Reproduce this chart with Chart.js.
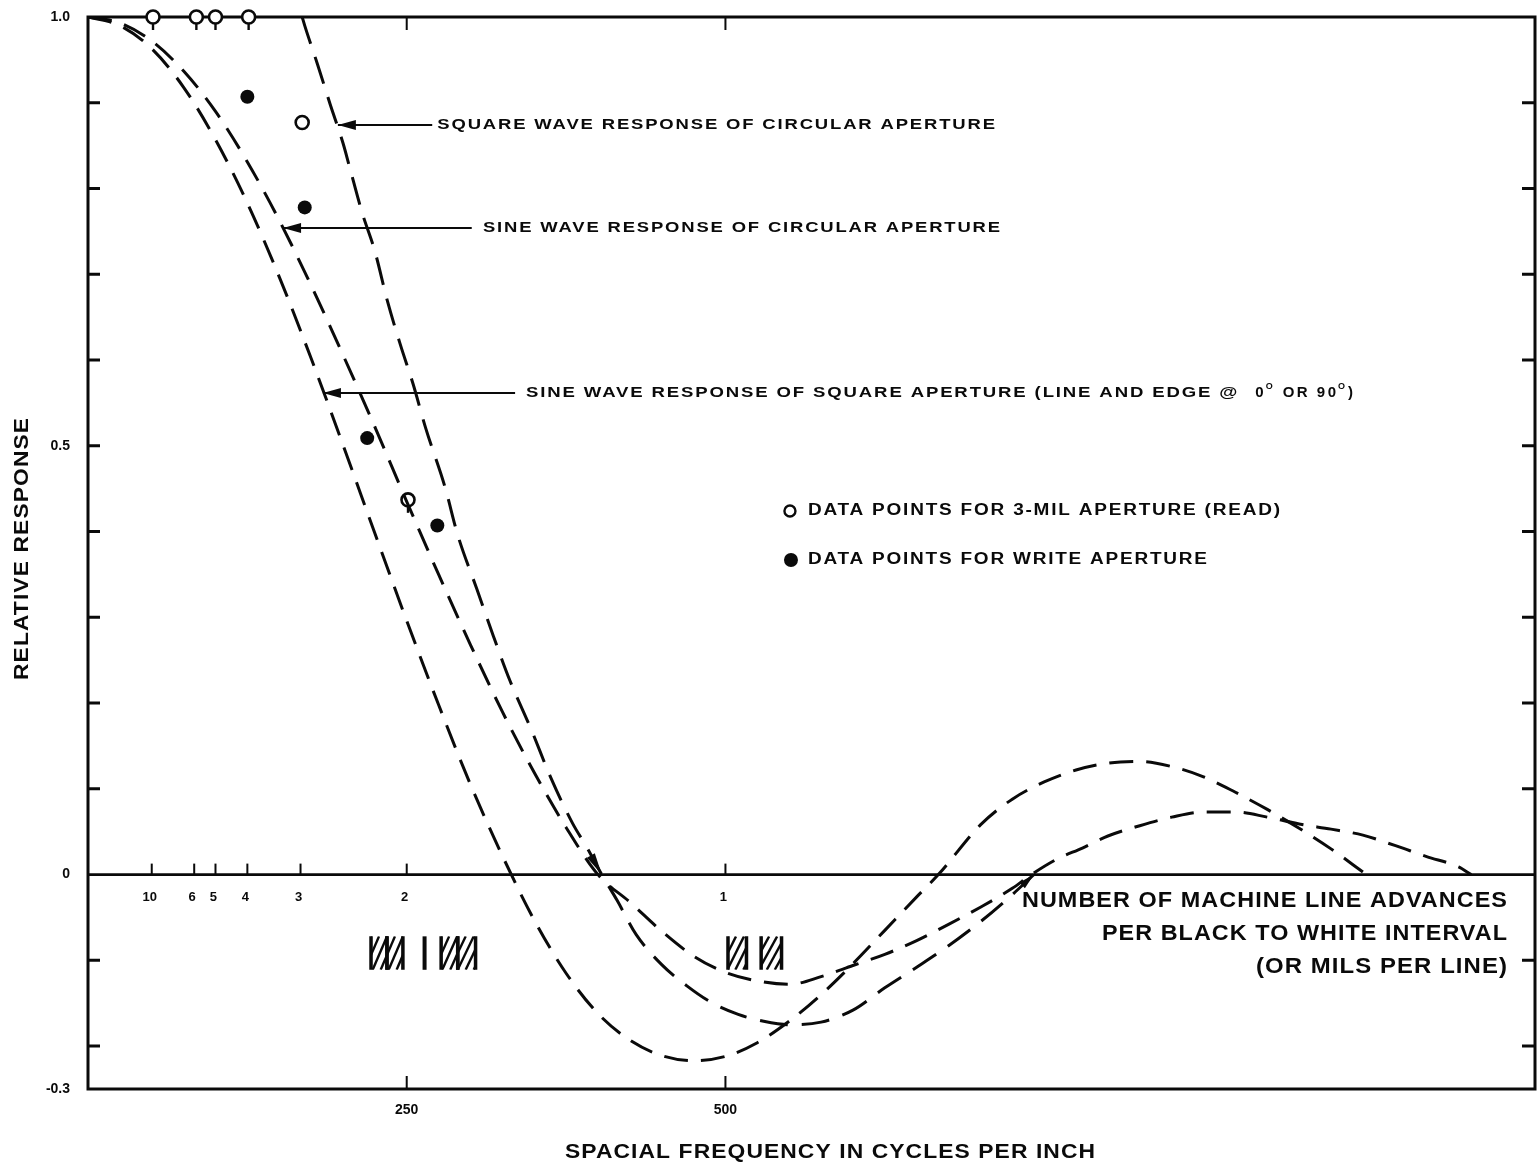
<!DOCTYPE html>
<html>
<head>
<meta charset="utf-8">
<script src="https://cdn.jsdelivr.net/npm/chart.js@4/dist/chart.umd.min.js"></script>
<style>
  html, body { margin: 0; padding: 0; background: #fff; overflow: hidden; }
  #wrap { width: 1537px; height: 1168px; }
  canvas { display: block; }
</style>
</head>
<body>
<div id="wrap"><canvas id="c" width="1537" height="1168"></canvas></div>
<script>
// ---- Response curves (spatial frequency in cycles per inch -> relative response) ----
const squareApertureFreq = [0,25,50,75,100,125,150,175,200,225,250,275,300,325,350,375,400,425,450,475,500,525,550,575,600,625,650,667,700,725,750,775,800,825,850,875,900,925,950,975,1000];
const squareApertureResp = [1.0,0.99,0.963,0.918,0.857,0.783,0.697,0.602,0.501,0.398,0.296,0.198,0.105,0.022,-0.053,-0.115,-0.162,-0.193,-0.211,-0.217,-0.212,-0.196,-0.171,-0.140,-0.104,-0.065,-0.026,0.0,0.058,0.088,0.108,0.122,0.130,0.132,0.126,0.114,0.096,0.076,0.054,0.030,0.003];

const circularSineFreq = [0,25,50,75,100,125,150,175,200,225,250,275,300,325,350,375,400,425,450,475,500,525,550,575,600,625,650,675,700,725,740,760,780,800,825,850,875,900,925,950,975,1000,1025,1050,1075,1085];
const circularSineResp = [1.0,0.993,0.972,0.937,0.890,0.831,0.763,0.687,0.606,0.522,0.435,0.350,0.268,0.190,0.119,0.055,0.0,-0.032,-0.066,-0.095,-0.114,-0.124,-0.128,-0.119,-0.106,-0.093,-0.077,-0.058,-0.038,-0.016,0.0,0.018,0.031,0.045,0.057,0.067,0.073,0.073,0.067,0.059,0.053,0.046,0.034,0.021,0.009,0.0];

const circularSquareFreq = [168,170,180,190,200,205,215,225,235,245,255,265,280,290,305,318,331,348,363,380,392,403,415,430,450,470,490,510,530,550,575,600,625,650,675,700,720,742];
const circularSquareResp = [1.0,0.99,0.945,0.898,0.853,0.826,0.772,0.727,0.668,0.618,0.572,0.52,0.452,0.396,0.333,0.278,0.226,0.168,0.113,0.06,0.03,0.0,-0.03,-0.07,-0.105,-0.13,-0.15,-0.163,-0.171,-0.175,-0.172,-0.158,-0.132,-0.108,-0.083,-0.055,-0.03,0.0];

// ---- Measured points ----
const readFreq  = [51, 85, 100, 126, 168, 251];
const readResp  = [1.0, 1.0, 1.0, 1.0, 0.877, 0.437];
const writeFreq = [125, 170, 219, 274];
const writeResp = [0.907, 0.778, 0.509, 0.407];

// ---- Axis ticks ----
const xTickValues = [250, 500];
const xTickLabels = ['250', '500'];
const yTickValues = [-0.25, 0, 0.5, 1.0];
const yTickLabels = ['-0.3', '0', '0.5', '1.0'];
const yMinorTicks = [-0.2, -0.1, 0.1, 0.2, 0.3, 0.4, 0.5, 0.6, 0.7, 0.8, 0.9];

// Machine line advances per black-to-white interval and their frequencies
const lineAdvanceLabels = ['10', '6', '5', '4', '3', '2', '1'];
const lineAdvanceFreq   = [50, 83.3, 100, 125, 166.7, 250, 500];

const FONT = '"Liberation Sans", Arial, Helvetica, sans-serif';
const INK = '#0a0a0a';

const toXY = (xs, ys) => xs.map((x, i) => ({ x, y: ys[i] }));

// Draw text with a light letter spacing, optionally scaled horizontally to span a width.
// Returns the x position just after the drawn text.
function fitText(ctx, str, x, y, size, width, spacing) {
  ctx.font = `bold ${size}px ${FONT}`;
  const ls = spacing === undefined ? 1.5 : spacing;
  ctx.letterSpacing = ls + 'px';
  ctx.textAlign = 'left';
  ctx.textBaseline = 'middle';
  const w0 = ctx.measureText(str).width - ls;
  const w = width || w0;
  ctx.save();
  ctx.translate(x, y);
  ctx.scale(w / w0, 1);
  ctx.fillText(str, 0, 0);
  ctx.restore();
  ctx.letterSpacing = '0px';
  return x + w;
}

function arrowLeft(ctx, xTail, xTip, y) {
  ctx.lineWidth = 2;
  ctx.beginPath();
  ctx.moveTo(xTail, y);
  ctx.lineTo(xTip, y);
  ctx.stroke();
  ctx.beginPath();
  ctx.moveTo(xTip, y);
  ctx.lineTo(xTip + 18, y - 5);
  ctx.lineTo(xTip + 18, y + 5);
  ctx.closePath();
  ctx.fill();
}

// Small solid wedge pointing from (xa, ya) towards (xb, yb), tip at (xb, yb)
function wedge(ctx, xa, ya, xb, yb, len, half) {
  const dx = xb - xa, dy = yb - ya, d = Math.hypot(dx, dy) || 1;
  const ux = dx / d, uy = dy / d;
  const bx = xb - ux * len, by = yb - uy * len;
  ctx.beginPath();
  ctx.moveTo(xb, yb);
  ctx.lineTo(bx - uy * half, by + ux * half);
  ctx.lineTo(bx + uy * half, by - ux * half);
  ctx.closePath();
  ctx.fill();
}

// One hatched cell: two vertical edges with rising diagonal strokes between them
function hatchCell(ctx, x0, x1, yBottom, yTop) {
  ctx.save();
  ctx.beginPath();
  ctx.rect(x0, yTop, x1 - x0, yBottom - yTop);
  ctx.clip();
  ctx.lineWidth = 2.4;
  const run = (x1 - x0) * 0.9;
  for (let x = x0 - run; x < x1 + 2; x += 8) {
    ctx.beginPath();
    ctx.moveTo(x, yBottom);
    ctx.lineTo(x + run, yTop);
    ctx.stroke();
  }
  ctx.restore();
  ctx.lineWidth = 3.5;
  ctx.beginPath();
  ctx.moveTo(x0, yBottom); ctx.lineTo(x0, yTop);
  ctx.moveTo(x1, yBottom); ctx.lineTo(x1, yTop);
  ctx.stroke();
}

const overlay = {
  id: 'overlay',
  beforeDatasetsDraw(chart) {
    const { ctx, chartArea: a, scales: { x: xs, y: ys } } = chart;
    ctx.save();
    ctx.strokeStyle = INK;
    ctx.fillStyle = INK;
    ctx.lineCap = 'butt';

    // plot frame
    ctx.lineWidth = 3;
    ctx.strokeRect(a.left, a.top, a.right - a.left, a.bottom - a.top);

    // inward tick marks on both vertical edges
    ctx.lineWidth = 3;
    yMinorTicks.forEach(v => {
      const y = ys.getPixelForValue(v);
      ctx.beginPath();
      ctx.moveTo(a.left, y); ctx.lineTo(a.left + 12, y);
      ctx.moveTo(a.right, y); ctx.lineTo(a.right - 13, y);
      ctx.stroke();
    });
    // inward tick marks on top and bottom edges
    ctx.lineWidth = 2;
    xTickValues.forEach(v => {
      const x = xs.getPixelForValue(v);
      ctx.beginPath();
      ctx.moveTo(x, a.top); ctx.lineTo(x, a.top + 13);
      ctx.moveTo(x, a.bottom); ctx.lineTo(x, a.bottom - 13);
      ctx.stroke();
    });

    // zero response line with line-advance ticks
    const y0 = ys.getPixelForValue(0);
    ctx.lineWidth = 2.6;
    ctx.beginPath();
    ctx.moveTo(a.left, y0); ctx.lineTo(a.right, y0);
    ctx.stroke();
    ctx.lineWidth = 2;
    lineAdvanceFreq.forEach(f => {
      const x = xs.getPixelForValue(f);
      ctx.beginPath();
      ctx.moveTo(x, y0); ctx.lineTo(x, y0 - 11);
      ctx.stroke();
    });
    ctx.font = `bold 13px ${FONT}`;
    ctx.textAlign = 'center';
    ctx.textBaseline = 'middle';
    lineAdvanceLabels.forEach((t, i) => {
      ctx.fillText(t, xs.getPixelForValue(lineAdvanceFreq[i]) - 2, ys.getPixelForValue(-0.027));
    });

    // bar-pattern glyphs below the zero line
    const gyB = ys.getPixelForValue(-0.111), gyT = ys.getPixelForValue(-0.072);
    [[222, 234.5], [234.5, 247], [277, 290], [290, 304], [502, 516.5], [528, 544]].forEach(([f0, f1]) => {
      hatchCell(ctx, xs.getPixelForValue(f0), xs.getPixelForValue(f1), gyB, gyT);
    });
    ctx.lineWidth = 4;
    ctx.beginPath();
    const bx = xs.getPixelForValue(264);
    ctx.moveTo(bx, gyB); ctx.lineTo(bx, gyT);
    ctx.stroke();
    ctx.restore();
  },
  afterDatasetsDraw(chart) {
    const { ctx, scales: { x: xs, y: ys } } = chart;
    const X = v => xs.getPixelForValue(v), Y = v => ys.getPixelForValue(v);
    ctx.save();
    ctx.strokeStyle = INK;
    ctx.fillStyle = INK;

    // stems below the read-aperture points
    ctx.lineWidth = 2.4;
    [0, 1, 2, 3, 5].forEach(i => {
      const x = X(readFreq[i]), y = Y(readResp[i]);
      ctx.beginPath();
      ctx.moveTo(x, y + 6); ctx.lineTo(x, y + 13);
      ctx.stroke();
    });

    // direction wedges where the square-wave curve meets the zero line
    const qi = circularSquareResp.indexOf(0.0);
    wedge(ctx, X(circularSquareFreq[qi - 2]), Y(circularSquareResp[qi - 2]), X(circularSquareFreq[qi]), Y(circularSquareResp[qi]), 22, 4.5);
    const qn = circularSquareFreq.length - 1;
    wedge(ctx, X(circularSquareFreq[qn - 1]), Y(circularSquareResp[qn - 1]), X(circularSquareFreq[qn]), Y(circularSquareResp[qn]), 16, 4);

    // curve call-outs
    arrowLeft(ctx, X(270), X(196), Y(0.8741));
    fitText(ctx, 'SQUARE WAVE RESPONSE OF CIRCULAR APERTURE', X(274), Y(0.8741), 15, X(711.4) - X(274));
    arrowLeft(ctx, X(301), X(153), Y(0.754));
    fitText(ctx, 'SINE WAVE RESPONSE OF CIRCULAR APERTURE', X(309.8), Y(0.754), 15, X(715.4) - X(309.8));
    arrowLeft(ctx, X(335), X(184.3), Y(0.5616));
    const y3 = Y(0.5616);
    let cx = fitText(ctx, 'SINE WAVE RESPONSE OF SQUARE APERTURE (LINE AND EDGE @', X(343.6), y3, 15, X(901.5) - X(343.6));
    cx = fitText(ctx, '0', cx + 18, y3, 15, 0, 0);
    cx = fitText(ctx, 'O', cx + 2, y3 - 6, 9, 0, 0);
    cx = fitText(ctx, 'OR 90', cx + 10, y3, 15, 0, 2.5);
    cx = fitText(ctx, 'O', cx + 2, y3 - 6, 9, 0, 0);
    fitText(ctx, ')', cx + 3, y3, 15, 0, 0);

    // point key
    ctx.lineWidth = 2.4;
    ctx.beginPath();
    ctx.arc(X(550.6), Y(0.424), 5.5, 0, Math.PI * 2);
    ctx.stroke();
    fitText(ctx, 'DATA POINTS FOR 3-MIL APERTURE (READ)', X(564.7), Y(0.424), 16, X(935) - X(564.7));
    ctx.beginPath();
    ctx.arc(X(551.4), Y(0.3668), 7, 0, Math.PI * 2);
    ctx.fill();
    fitText(ctx, 'DATA POINTS FOR WRITE APERTURE', X(564.7), Y(0.3668), 16, X(877.7) - X(564.7));

    // line-advance caption, right aligned
    const rx = X(1113);
    [['NUMBER OF MACHINE LINE ADVANCES', -0.0308, 485],
     ['PER BLACK TO WHITE INTERVAL', -0.0693, 405],
     ['(OR MILS PER LINE)', -0.1077, 251]].forEach(([t, r, w]) => {
      fitText(ctx, t, rx - w, Y(r), 22, w, 1);
    });

    // axis titles
    fitText(ctx, 'SPACIAL FREQUENCY IN CYCLES PER INCH', 565, 1152, 21, 530, 1);
    ctx.save();
    ctx.translate(22, 680);
    ctx.rotate(-Math.PI / 2);
    fitText(ctx, 'RELATIVE RESPONSE', 0, 0, 20, 262, 1);
    ctx.restore();

    ctx.restore();
  }
};

const curveStyle = {
  showLine: true,
  pointRadius: 0,
  borderColor: INK,
  borderWidth: 3,
  borderDash: [24, 13],
  cubicInterpolationMode: 'monotone',
  fill: false
};

new Chart(document.getElementById('c'), {
  type: 'scatter',
  data: {
    datasets: [
      Object.assign({ label: 'Sine wave response of square aperture', data: toXY(squareApertureFreq, squareApertureResp) }, curveStyle),
      Object.assign({ label: 'Sine wave response of circular aperture', data: toXY(circularSineFreq, circularSineResp) }, curveStyle),
      Object.assign({ label: 'Square wave response of circular aperture', data: toXY(circularSquareFreq, circularSquareResp), clip: false }, curveStyle, { borderDash: [28, 14] }),
      { label: 'Data points for 3-mil aperture (read)', data: toXY(readFreq, readResp), pointRadius: 6.5, pointBorderWidth: 2.6,
        pointBackgroundColor: '#fff', pointBorderColor: INK, showLine: false, clip: false },
      { label: 'Data points for write aperture', data: toXY(writeFreq, writeResp), pointRadius: 7, pointBorderWidth: 0,
        pointBackgroundColor: INK, pointBorderColor: INK, showLine: false, clip: false }
    ]
  },
  options: {
    responsive: false,
    animation: false,
    devicePixelRatio: 1,
    layout: { autoPadding: false, padding: { top: 17, right: 2, left: 0, bottom: 0 } },
    plugins: { legend: { display: false }, tooltip: { enabled: false } },
    scales: {
      x: {
        type: 'linear', min: 0, max: 1135,
        grid: { display: false, drawTicks: false },
        border: { display: false },
        afterBuildTicks: s => { s.ticks = xTickValues.map(v => ({ value: v })); },
        afterFit: s => { s.height = 79; s.paddingLeft = 0; s.paddingRight = 0; },
        ticks: {
          padding: 13, color: INK, maxRotation: 0, autoSkip: false,
          font: { family: FONT, weight: 'bold', size: 14 },
          callback: v => xTickLabels[xTickValues.indexOf(v)]
        }
      },
      y: {
        type: 'linear', min: -0.25, max: 1.0,
        grid: { display: false, drawTicks: false },
        border: { display: false },
        afterBuildTicks: s => { s.ticks = yTickValues.map(v => ({ value: v })); },
        afterFit: s => { s.width = 88; s.paddingTop = 0; s.paddingBottom = 0; },
        ticks: {
          padding: 18, color: INK, autoSkip: false,
          font: { family: FONT, weight: 'bold', size: 14 },
          callback: v => yTickLabels[yTickValues.indexOf(v)]
        }
      }
    }
  },
  plugins: [overlay]
});
</script>
</body>
</html>
